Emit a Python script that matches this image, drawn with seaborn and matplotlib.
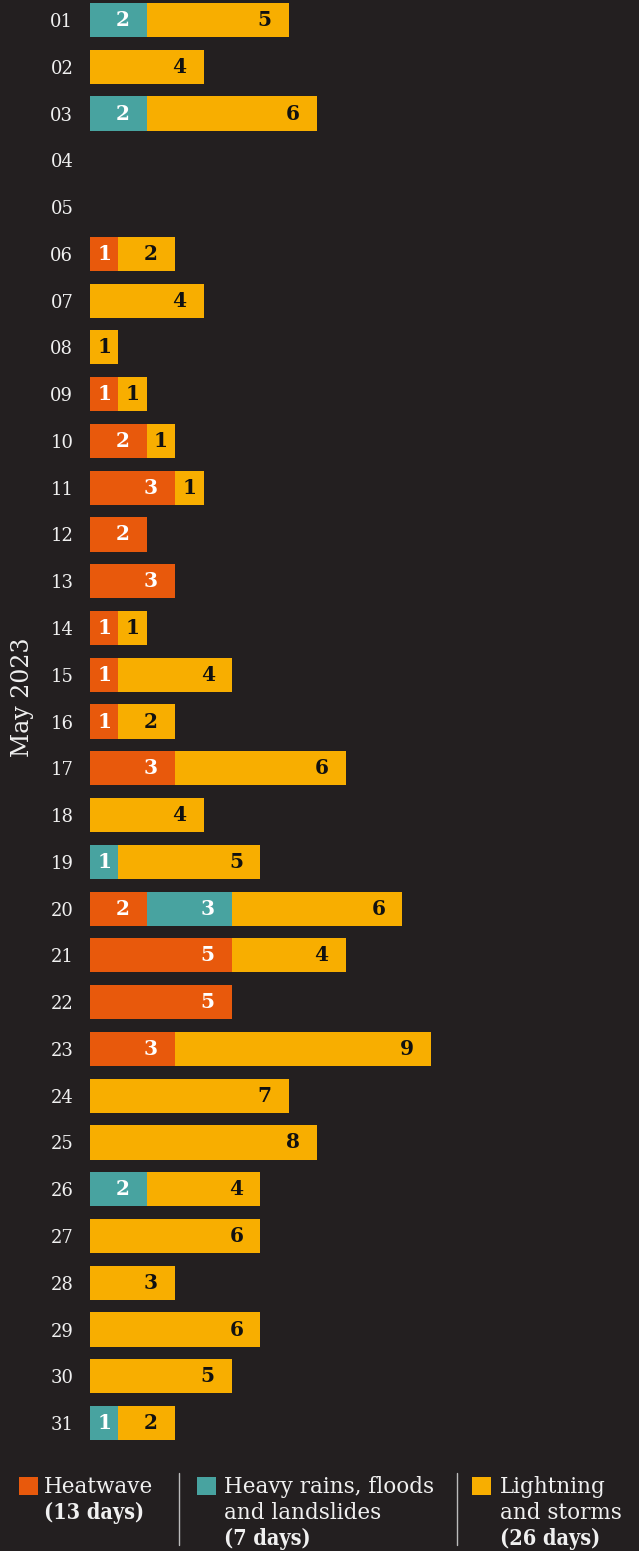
import pandas as pd
import seaborn as sns
import matplotlib.pyplot as plt
from matplotlib.patches import Rectangle
from matplotlib.lines import Line2D

# data, May 2023
days = ["01", "02", "03", "04", "05", "06", "07", "08", "09", "10",
        "11", "12", "13", "14", "15", "16", "17", "18", "19", "20",
        "21", "22", "23", "24", "25", "26", "27", "28", "29", "30", "31"]
heat = [0, 0, 0, 0, 0, 1, 0, 0, 1, 2, 3, 2, 3, 1, 1, 1, 3, 0, 0, 2,
        5, 5, 3, 0, 0, 0, 0, 0, 0, 0, 0]
rain = [2, 0, 2, 0, 0, 0, 0, 0, 0, 0, 0, 0, 0, 0, 0, 0, 0, 0, 1, 3,
        0, 0, 0, 0, 0, 2, 0, 0, 0, 0, 1]
storm = [5, 4, 6, 0, 0, 2, 4, 1, 1, 1, 1, 0, 0, 1, 4, 2, 6, 4, 5, 6,
         4, 0, 9, 7, 8, 4, 6, 3, 6, 5, 2]

legend_titles = [["Heatwave"], ["Heavy rains, floods", "and landslides"],
                 ["Lightning", "and storms"]]
legend_counts = ["(13 days)", "(7 days)", "(26 days)"]

BG = "#231f20"
TXT = "#f0f0f0"
C_HEAT = "#e8590c"
C_RAIN = "#48a3a0"
C_STORM = "#f8ae00"

df = pd.DataFrame({"day": days, "heat": heat, "rain": rain, "storm": storm})
df["hr"] = df["heat"] + df["rain"]
df["total"] = df["hr"] + df["storm"]

sns.set_theme(style="dark")
plt.rcParams["font.family"] = ["DejaVu Serif"]

W, H = 639, 1551
fig = plt.figure(figsize=(W / 100, H / 100), dpi=100, facecolor=BG)
ax = fig.add_axes([90 / W, 0.0674, 19 * 28.4 / W, 0.9348])
ax.set_facecolor(BG)

# stacked bars: draw cumulative totals, longest first
for col, c in [("total", C_STORM), ("hr", C_RAIN), ("heat", C_HEAT)]:
    sns.barplot(data=df, x=col, y="day", color=c, saturation=1, width=0.73,
                linewidth=0, errorbar=None, ax=ax)

# value labels near the end of each segment
for i, r in df.iterrows():
    start = 0
    for v, tc in [(r["heat"], "white"), (r["rain"], "white"), (r["storm"], "#111111")]:
        if v > 0:
            end = start + v
            ax.text(end - min(0.85, v / 2), i, str(v), ha="center", va="center",
                    fontsize=14.5, fontweight="heavy", color=tc)
        start += v

ax.set_xlim(0, 19)
ax.set_ylim(30.5, -0.5)
ax.set_xticks([])
ax.set_xlabel("")
ax.set_ylabel("")
ax.grid(False)
for s in ax.spines.values():
    s.set_visible(False)
ax.tick_params(axis="y", length=0, pad=12, labelsize=13, labelcolor=TXT)

fig.text(23 / W, 1 - 697 / H, "May 2023", rotation=90, ha="center",
         va="center", fontsize=17, color=TXT)

# legend at the bottom
sq_x = [19, 197, 472]
txt_x = [44, 224, 500]
colors = [C_HEAT, C_RAIN, C_STORM]
base = [1493, 1519, 1545]
for k in range(3):
    fig.add_artist(Rectangle((sq_x[k] / W, 1 - 1495 / H), 19 / W, 18 / H,
                             transform=fig.transFigure, color=colors[k], lw=0))
    lines = legend_titles[k]
    for j, t in enumerate(lines):
        fig.text(txt_x[k] / W, 1 - base[j] / H, t, ha="left", va="baseline",
                 fontsize=15.5, color=TXT)
    fig.text(txt_x[k] / W, 1 - base[len(lines)] / H, legend_counts[k],
             ha="left", va="baseline", fontsize=15.5, fontweight="bold",
             color=TXT, fontstretch="condensed")
for xs in [179, 457]:
    fig.add_artist(Line2D([xs / W, xs / W], [1 - 1473 / H, 1 - 1545 / H],
                          transform=fig.transFigure, color="#bbbbbb", lw=1))

fig.savefig("out.png", dpi=100, facecolor=BG)
